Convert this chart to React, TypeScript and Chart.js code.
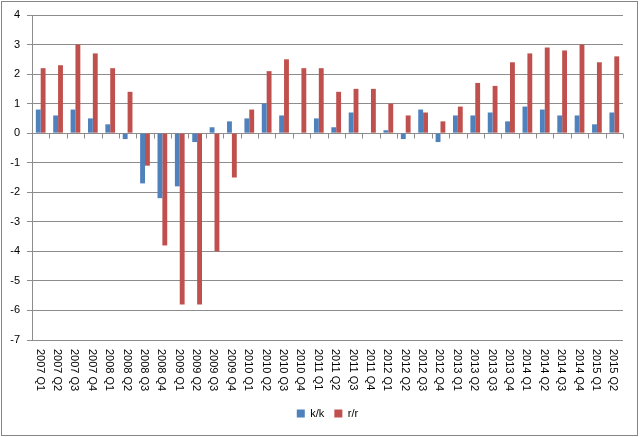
import { useEffect, useRef } from 'react';
import Chart from 'chart.js/auto';

const quarters = [
  '2007 Q1', '2007 Q2', '2007 Q3', '2007 Q4',
  '2008 Q1', '2008 Q2', '2008 Q3', '2008 Q4',
  '2009 Q1', '2009 Q2', '2009 Q3', '2009 Q4',
  '2010 Q1', '2010 Q2', '2010 Q3', '2010 Q4',
  '2011 Q1', '2011 Q2', '2011 Q3', '2011 Q4',
  '2012 Q1', '2012 Q2', '2012 Q3', '2012 Q4',
  '2013 Q1', '2013 Q2', '2013 Q3', '2013 Q4',
  '2014 Q1', '2014 Q2', '2014 Q3', '2014 Q4',
  '2015 Q1', '2015 Q2',
];

const kk = [
  0.8, 0.6, 0.8, 0.5,
  0.3, -0.2, -1.7, -2.2,
  -1.8, -0.3, 0.2, 0.4,
  0.5, 1.0, 0.6, 0,
  0.5, 0.2, 0.7, 0,
  0.1, -0.2, 0.8, -0.3,
  0.6, 0.6, 0.7, 0.4,
  0.9, 0.8, 0.6, 0.6,
  0.3, 0.7,
];

const rr = [
  2.2, 2.3, 3.0, 2.7,
  2.2, 1.4, -1.1, -3.8,
  -5.8, -5.8, -4.0, -1.5,
  0.8, 2.1, 2.5, 2.2,
  2.2, 1.4, 1.5, 1.5,
  1.0, 0.6, 0.7, 0.4,
  0.9, 1.7, 1.6, 2.4,
  2.7, 2.9, 2.8, 3.0,
  2.4, 2.6,
];

const yMin = -7;
const yMax = 4;

const FONT = 'Liberation Sans';
const GRID = '#8c8c8c';

// frame, zero-line ticks and the vertical category labels (Excel style)
const excelLook = {
  id: 'excelLook',
  beforeDraw(chart: Chart) {
    const { ctx, width, height } = chart;
    ctx.save();
    ctx.fillStyle = '#fff';
    ctx.fillRect(0, 0, width, height);
    ctx.restore();
  },
  afterDraw(chart: Chart) {
    const { ctx, chartArea, width, height } = chart;
    const x = chart.scales.x;
    const y = chart.scales.y;
    const y0 = Math.round(y.getPixelForValue(0)) + 0.5;
    const step = (chartArea.right - chartArea.left) / quarters.length;

    ctx.save();
    ctx.strokeStyle = GRID;
    ctx.lineWidth = 1;
    ctx.beginPath();
    for (let i = 1; i <= quarters.length; i++) {
      const px = Math.round(chartArea.left + i * step) + 0.5;
      ctx.moveTo(px, y0);
      ctx.lineTo(px, y0 + 5);
    }
    ctx.stroke();

    ctx.fillStyle = '#000';
    ctx.font = `11px "${FONT}"`;
    ctx.textAlign = 'left';
    ctx.textBaseline = 'middle';
    quarters.forEach((q, i) => {
      const px = x.getPixelForValue(i);
      ctx.save();
      ctx.translate(px - 1, chartArea.bottom + 9);
      ctx.rotate(Math.PI / 2);
      ctx.fillText(q, 0, 0);
      ctx.restore();
    });

    ctx.strokeStyle = '#868686';
    ctx.strokeRect(1.5, 1.5, width - 4, height - 3);
    ctx.restore();
  },
};

export default function App() {
  const canvasRef = useRef<HTMLCanvasElement | null>(null);
  const chartRef = useRef<Chart | null>(null);

  useEffect(() => {
    document.body.style.margin = '0';
    if (!canvasRef.current) return undefined;

    chartRef.current?.destroy();
    chartRef.current = new Chart(canvasRef.current, {
      type: 'bar',
      data: {
        labels: quarters,
        datasets: [
          { label: 'k/k', data: kk, backgroundColor: '#4F81BD', borderWidth: 0 },
          { label: 'r/r', data: rr, backgroundColor: '#C0504D', borderWidth: 0 },
        ],
      },
      options: {
        responsive: false,
        animation: false,
        layout: { padding: { left: 0, right: 17, top: 15, bottom: 8 } },
        datasets: { bar: { categoryPercentage: 0.56, barPercentage: 1 } },
        scales: {
          x: {
            offset: true,
            grid: { display: false },
            border: { display: false },
            ticks: { display: false },
            afterFit: (scale) => {
              scale.height = 58;
            },
          },
          y: {
            min: yMin,
            max: yMax,
            ticks: {
              stepSize: 1,
              padding: 7,
              color: '#000',
              font: { family: FONT, size: 11 },
            },
            grid: { color: GRID, tickLength: 5 },
            border: { color: GRID },
            afterFit: (scale) => {
              scale.width = 32;
            },
          },
        },
        plugins: {
          tooltip: { enabled: false },
          legend: {
            position: 'bottom',
            fullSize: false,
            labels: {
              boxWidth: 8,
              boxHeight: 8,
              padding: 10,
              color: '#000',
              font: { family: FONT, size: 11 },
            },
          },
        },
      },
      plugins: [excelLook],
    });

    return () => {
      chartRef.current?.destroy();
      chartRef.current = null;
    };
  }, []);

  return (
    <div style={{ width: 640, height: 437 }}>
      <canvas ref={canvasRef} width={640} height={437} />
    </div>
  );
}
